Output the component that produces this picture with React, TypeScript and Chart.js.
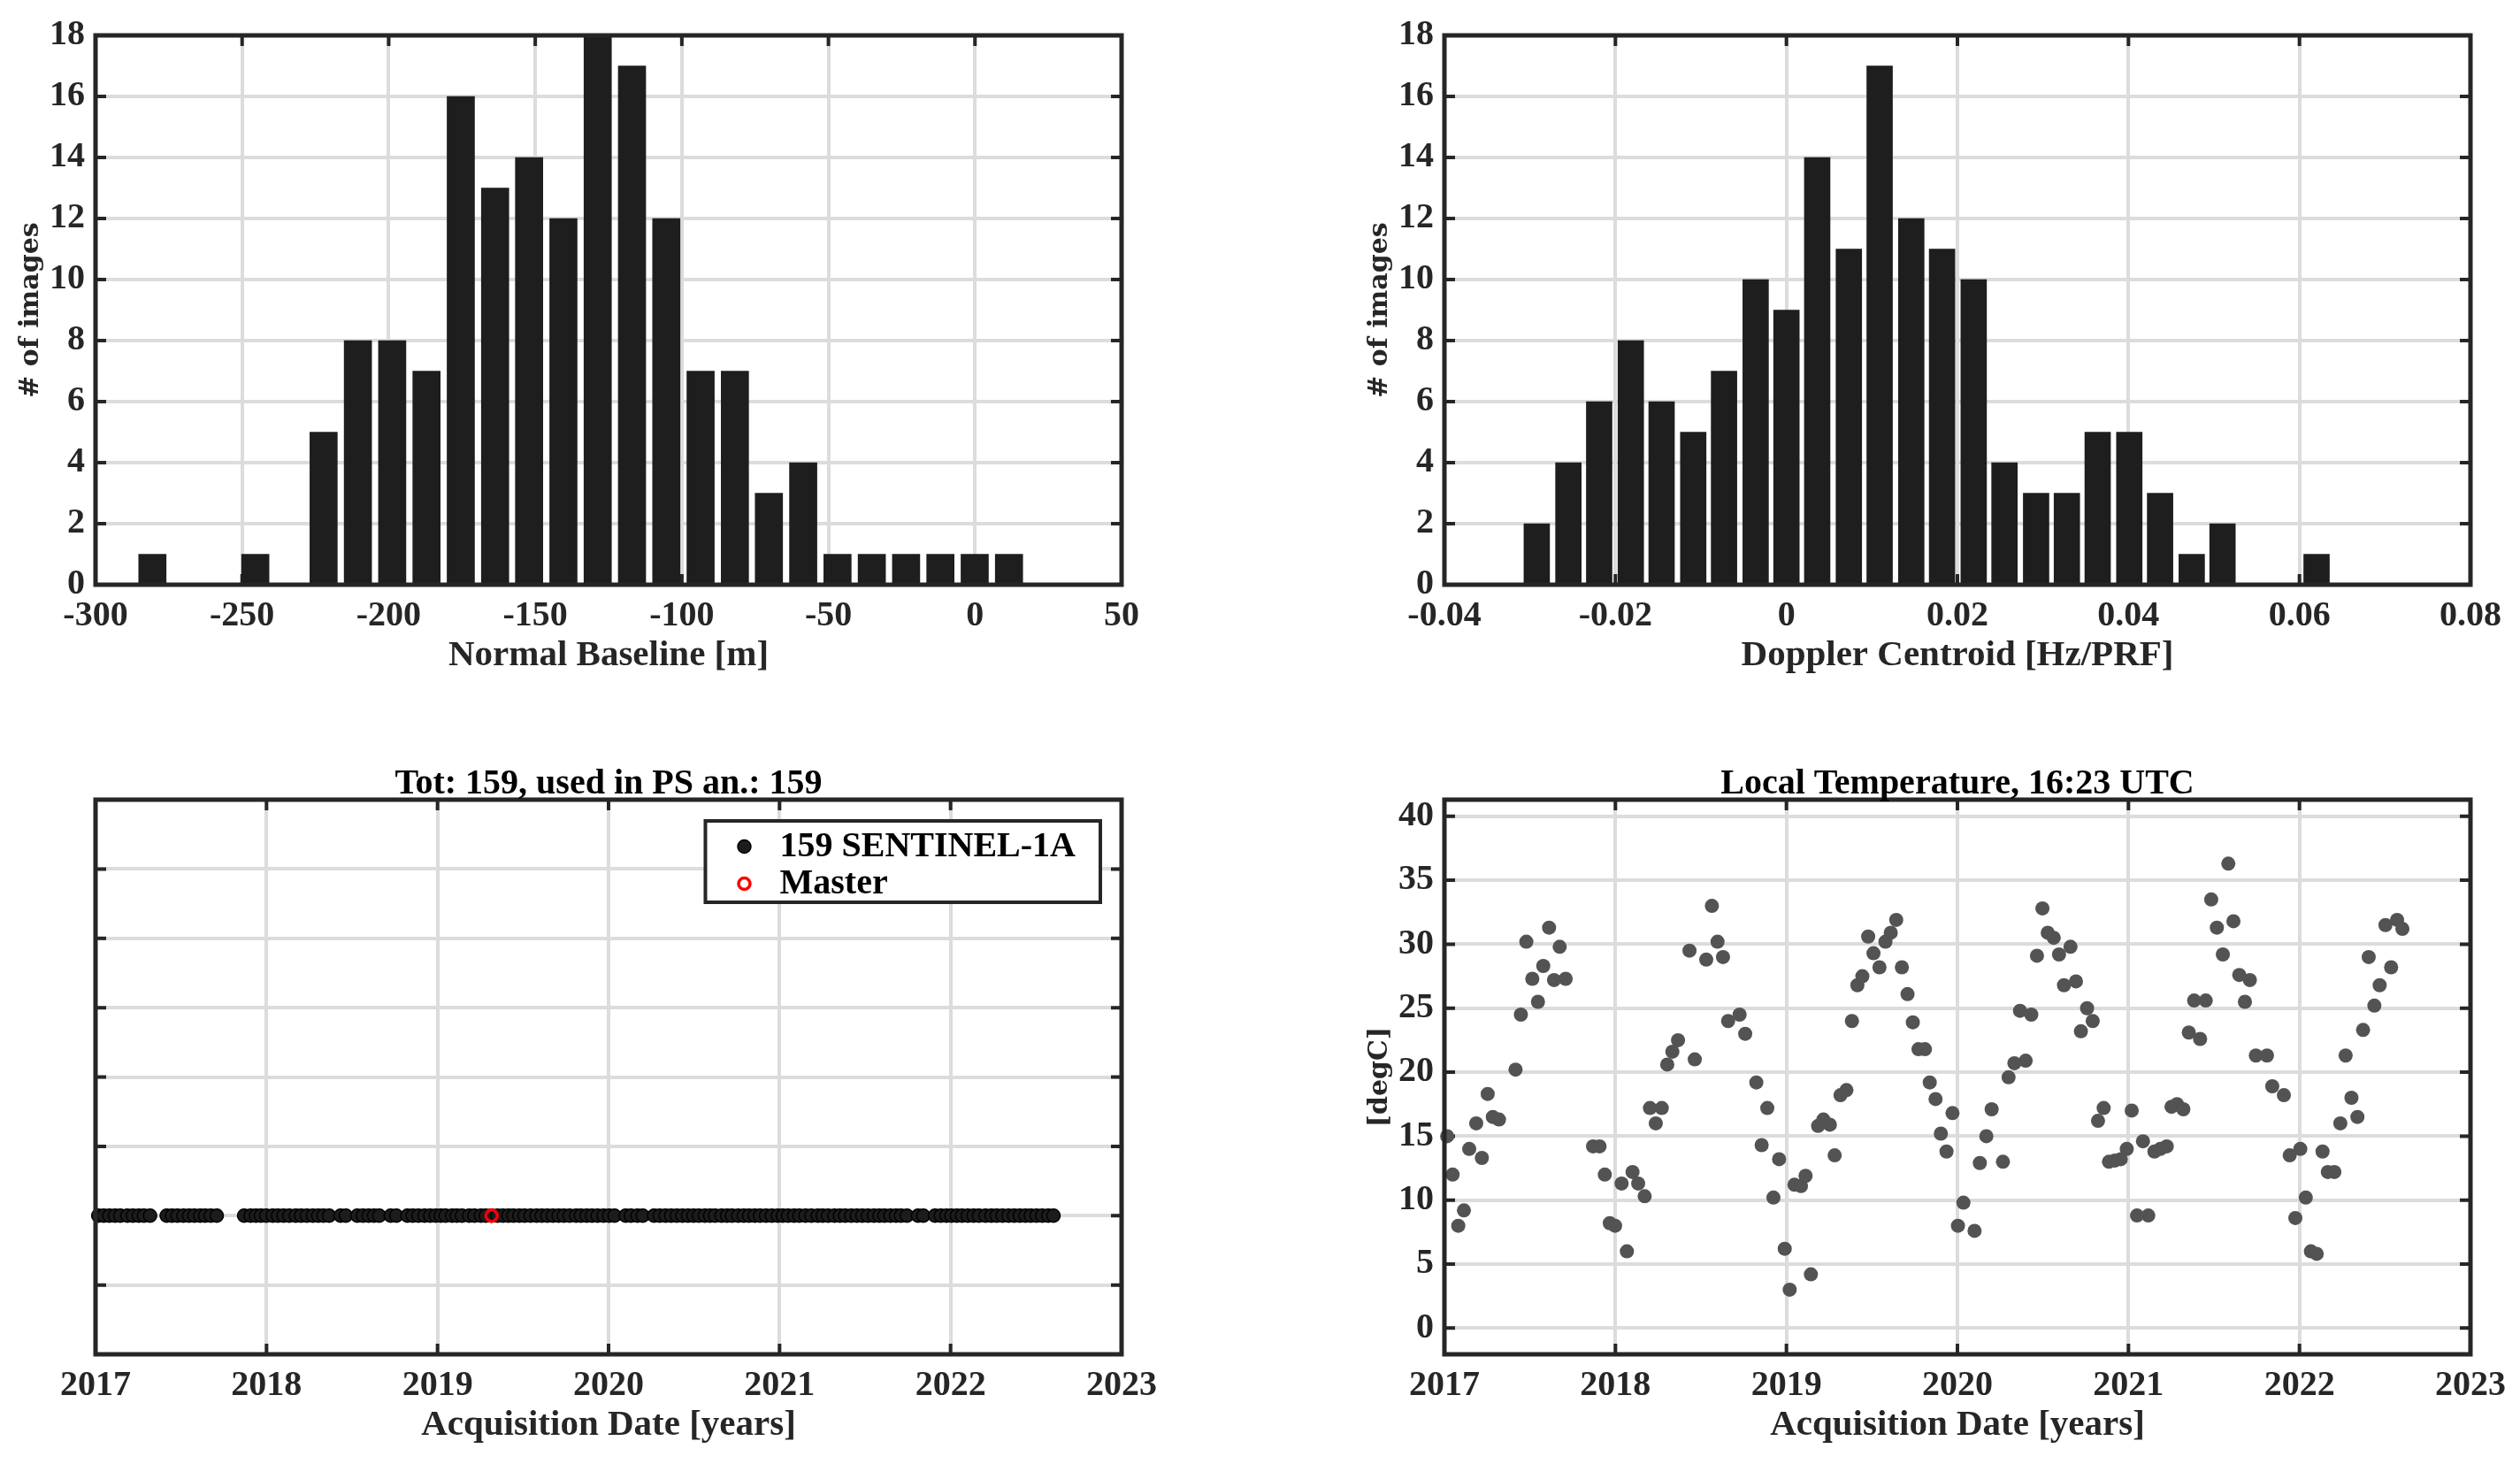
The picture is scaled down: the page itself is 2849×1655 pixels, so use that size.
import React, { useEffect, useRef } from "react";
import { Chart, registerables } from "chart.js";

Chart.register(...registerables);

// ---------------- DATA ----------------
const baselineBinCenters = [
  -280.6, -268.9, -257.2, -245.5, -233.9, -222.2, -210.5, -198.8, -187.1, -175.4,
  -163.7, -152.1, -140.4, -128.7, -117.0, -105.3, -93.6, -81.9, -70.3, -58.6,
  -46.9, -35.2, -23.5, -11.8, -0.1, 11.6,
];
const baselineCounts = [1, 0, 0, 1, 0, 5, 8, 8, 7, 16, 13, 14, 12, 18, 17, 12, 7, 7, 3, 4, 1, 1, 1, 1, 1, 1];
const baselineTicks = [-300, -250, -200, -150, -100, -50, 0, 50];

const dopplerBinCenters = [
  -0.0292, -0.0255, -0.0219, -0.0182, -0.0146, -0.0109, -0.0073, -0.0036, 0.0, 0.0036,
  0.0073, 0.0109, 0.0146, 0.0182, 0.0219, 0.0255, 0.0292, 0.0328, 0.0364, 0.0401,
  0.0437, 0.0474, 0.051, 0.0547, 0.0583, 0.062,
];
const dopplerCounts = [2, 4, 6, 8, 6, 5, 7, 10, 9, 14, 11, 17, 12, 11, 10, 4, 3, 3, 5, 5, 3, 1, 2, 0, 0, 1];
const dopplerTicks = [-0.04, -0.02, 0, 0.02, 0.04, 0.06, 0.08];

const countTicks = [0, 2, 4, 6, 8, 10, 12, 14, 16, 18];
const yearTicks = [2017, 2018, 2019, 2020, 2021, 2022, 2023];
const trackTicks = [0, 1, 2, 3, 4, 5, 6, 7, 8];
const tempTicks = [0, 5, 10, 15, 20, 25, 30, 35, 40];

// acquisition dates (decimal years) and local temperature [degC]
const acqDates = [
  2017.016, 2017.048, 2017.081, 2017.114, 2017.145, 2017.186, 2017.219, 2017.253, 2017.283, 2017.319,
  2017.416, 2017.447, 2017.479, 2017.514, 2017.547, 2017.578, 2017.612, 2017.641, 2017.674, 2017.709,
  2017.869, 2017.907, 2017.938, 2017.967, 2017.998, 2018.036, 2018.067, 2018.1, 2018.133, 2018.171,
  2018.202, 2018.236, 2018.271, 2018.303, 2018.333, 2018.366, 2018.433, 2018.464, 2018.531, 2018.564,
  2018.597, 2018.629, 2018.659, 2018.726, 2018.759, 2018.824, 2018.855, 2018.888, 2018.924, 2018.957,
  2018.99, 2019.019, 2019.047, 2019.085, 2019.112, 2019.143, 2019.185, 2019.216, 2019.254, 2019.282,
  2019.316, 2019.351, 2019.383, 2019.415, 2019.444, 2019.478, 2019.509, 2019.544, 2019.579, 2019.61,
  2019.642, 2019.675, 2019.708, 2019.739, 2019.772, 2019.81, 2019.838, 2019.872, 2019.903, 2019.936,
  2019.971, 2020.003, 2020.035, 2020.1, 2020.131, 2020.169, 2020.2, 2020.266, 2020.299, 2020.333,
  2020.366, 2020.399, 2020.432, 2020.465, 2020.497, 2020.528, 2020.563, 2020.594, 2020.623, 2020.661,
  2020.693, 2020.722, 2020.758, 2020.791, 2020.822, 2020.855, 2020.886, 2020.921, 2020.955, 2020.99,
  2021.019, 2021.05, 2021.085, 2021.116, 2021.152, 2021.186, 2021.224, 2021.252, 2021.284, 2021.321,
  2021.353, 2021.384, 2021.419, 2021.452, 2021.484, 2021.517, 2021.552, 2021.584, 2021.614, 2021.648,
  2021.681, 2021.71, 2021.745, 2021.81, 2021.841, 2021.909, 2021.943, 2021.976, 2022.005, 2022.037,
  2022.067, 2022.101, 2022.135, 2022.166, 2022.204, 2022.239, 2022.27, 2022.304, 2022.339, 2022.372,
  2022.405, 2022.438, 2022.469, 2022.503, 2022.536, 2022.571, 2022.602,
];
const temperatures = [
  15.0, 12.0, 8.0, 9.2, 14.0, 16.0, 13.3, 18.3, 16.5, 16.3,
  20.2, 24.5, 30.2, 27.3, 25.5, 28.3, 31.3, 27.2, 29.8, 27.3,
  14.2, 14.2, 12.0, 8.2, 8.0, 11.3, 6.0, 12.2, 11.3, 10.3,
  17.2, 16.0, 17.2, 20.6, 21.6, 22.5, 29.5, 21.0, 28.8, 33.0,
  30.2, 29.0, 24.0, 24.5, 23.0, 19.2, 14.3, 17.2, 10.2, 13.2,
  6.2, 3.0, 11.2, 11.1, 11.9, 4.2, 15.8, 16.3, 15.9, 13.5,
  18.2, 18.6, 24.0, 26.8, 27.5, 30.6, 29.3, 28.2, 30.2, 30.9,
  31.9, 28.2, 26.1, 23.9, 21.8, 21.8, 19.2, 17.9, 15.2, 13.8,
  16.8, 8.0, 9.8, 7.6, 12.9, 15.0, 17.1, 13.0, 19.6, 20.7,
  24.8, 20.9, 24.5, 29.1, 32.8, 30.9, 30.5, 29.2, 26.8, 29.8,
  27.1, 23.2, 25.0, 24.0, 16.2, 17.2, 13.0, 13.1, 13.2, 14.0,
  17.0, 8.8, 14.6, 8.8, 13.8, 14.0, 14.2, 17.3, 17.5, 17.1,
  23.1, 25.6, 22.6, 25.6, 33.5, 31.3, 29.2, 36.3, 31.8, 27.6,
  25.5, 27.2, 21.3, 21.3, 18.9, 18.2, 13.5, 8.6, 14.0, 10.2,
  6.0, 5.8, 13.8, 12.2, 12.2, 16.0, 21.3, 18.0, 16.5, 23.3,
  29.0, 25.2, 26.8, 31.5, 28.2, 31.9, 31.2,
];
const masterDate = 2019.316;
const trackLevel = 2;

const sentinelLabel = "159 SENTINEL-1A";
const masterLabel = "Master";
const timelineTitle = "Tot: 159, used in PS an.: 159";
const tempTitle = "Local Temperature, 16:23 UTC";

// ---------------- STYLE / LAYOUT ----------------
const SERIF = '"Liberation Serif", "Times New Roman", serif';
const YSERIF = '"DejaVu Serif", serif';
const TEXT_COLOR = "#262626";
const AXIS_COLOR = "#262626";
const GRID_COLOR = "#dcdcdc";
const GRID_W = 4;
const FRAME_W = 5;
const TICK_W = 4;
const TICK_LEN = 12;
const TICK_FONT = { family: SERIF, size: 40, weight: "bold" as const, lineHeight: 1.2 };
const LABEL_FONT = { family: SERIF, size: 41, weight: "bold" as const, lineHeight: 1.2 };
const YLABEL_FONT = { family: YSERIF, size: 30, weight: "bold" as const, lineHeight: 1.2 };
const TITLE_FONT = `bold 40px ${SERIF}`;
const LEGEND_FONT = `bold 40px ${SERIF}`;

const X_TITLE_GAP = 80; // frame bottom -> x title center
const Y_TITLE_GAP = 73; // frame left -> y title center
const TITLE_GAP = 17; // frame top -> title center

const LEG = { marginR: 24, marginT: 24, padT: 4, row: 42, markX: 44, textX: 84, padR: 28, textDy: 4 };

type Box = { x: number; y: number; w: number; h: number };
type Rect = { l: number; t: number; r: number; b: number };

const BOX_TL: Box = { x: 0, y: 0, w: 1424, h: 830 };
const BOX_TR: Box = { x: 1424, y: 0, w: 1425, h: 830 };
const BOX_BL: Box = { x: 0, y: 830, w: 1424, h: 825 };
const BOX_BR: Box = { x: 1424, y: 830, w: 1425, h: 825 };
const AREA_TL: Rect = { l: 108, t: 40, r: 1268, b: 661 };
const AREA_TR: Rect = { l: 1633, t: 40, r: 2793, b: 661 };
const AREA_BL: Rect = { l: 108, t: 904, r: 1268, b: 1531 };
const AREA_BR: Rect = { l: 1633, t: 904, r: 2793, b: 1531 };

// ---------------- PLUGIN (MATLAB-like axes box) ----------------
const matlabAxes: any = {
  id: "matlabAxes",
  beforeDatasetsDraw(chart: any) {
    const { ctx, chartArea: a } = chart;
    const xs = chart.scales.x;
    const ys = chart.scales.y;
    ctx.save();
    ctx.strokeStyle = AXIS_COLOR;
    ctx.lineWidth = TICK_W;
    ctx.beginPath();
    xs.ticks.forEach((t: any) => {
      const p = xs.getPixelForValue(t.value);
      if (p - a.left < 2 || a.right - p < 2) return;
      ctx.moveTo(p, a.bottom);
      ctx.lineTo(p, a.bottom - TICK_LEN);
      ctx.moveTo(p, a.top);
      ctx.lineTo(p, a.top + TICK_LEN);
    });
    ys.ticks.forEach((t: any) => {
      const p = ys.getPixelForValue(t.value);
      if (p - a.top < 2 || a.bottom - p < 2) return;
      ctx.moveTo(a.left, p);
      ctx.lineTo(a.left + TICK_LEN, p);
      ctx.moveTo(a.right, p);
      ctx.lineTo(a.right - TICK_LEN, p);
    });
    ctx.stroke();
    ctx.restore();
  },
  afterDatasetsDraw(chart: any, _args: any, opts: any) {
    const { ctx, chartArea: a } = chart;
    ctx.save();
    ctx.strokeStyle = AXIS_COLOR;
    ctx.lineWidth = FRAME_W;
    ctx.strokeRect(a.left, a.top, a.right - a.left, a.bottom - a.top);
    if (opts && opts.title) {
      ctx.font = TITLE_FONT;
      ctx.fillStyle = "#000";
      ctx.textAlign = "center";
      ctx.textBaseline = "middle";
      ctx.fillText(opts.title, (a.left + a.right) / 2, a.top - TITLE_GAP);
    }
    if (opts && opts.legend) {
      const ds = chart.data.datasets;
      ctx.font = LEGEND_FONT;
      const w = Math.max(...ds.map((d: any) => ctx.measureText(d.label).width));
      const bw = LEG.textX + w + LEG.padR;
      const bh = LEG.padT * 2 + ds.length * LEG.row;
      const bx = a.right - LEG.marginR - bw;
      const by = a.top + LEG.marginT;
      ctx.fillStyle = "#ffffff";
      ctx.fillRect(bx, by, bw, bh);
      ctx.lineWidth = 4;
      ctx.strokeStyle = AXIS_COLOR;
      ctx.strokeRect(bx, by, bw, bh);
      ds.forEach((d: any, i: number) => {
        const cy = by + LEG.padT + LEG.row * (i + 0.5) + LEG.textDy;
        ctx.beginPath();
        ctx.arc(bx + LEG.markX, cy, d.pointRadius, 0, Math.PI * 2);
        if (d.pointBackgroundColor && d.pointBackgroundColor !== "rgba(0,0,0,0)") {
          ctx.fillStyle = d.pointBackgroundColor;
          ctx.fill();
        }
        ctx.lineWidth = d.pointBorderWidth;
        ctx.strokeStyle = d.pointBorderColor;
        ctx.stroke();
        ctx.fillStyle = "#000";
        ctx.textAlign = "left";
        ctx.textBaseline = "middle";
        ctx.fillText(d.label, bx + LEG.textX, cy + 1);
      });
    }
    ctx.restore();
  },
};

function buildOptions(box: Box, area: Rect, o: any) {
  const yWidth = area.l - box.x;
  const xHeight = box.y + box.h - area.b;
  const xTitleLH = LABEL_FONT.size * LABEL_FONT.lineHeight;
  const yTitleLH = YLABEL_FONT.size * YLABEL_FONT.lineHeight;
  return {
    responsive: false,
    maintainAspectRatio: false,
    animation: false,
    devicePixelRatio: 1,
    events: [],
    layout: { padding: { left: 0, top: area.t - box.y, right: box.x + box.w - area.r, bottom: 0 } },
    plugins: {
      legend: { display: false },
      tooltip: { enabled: false },
      title: { display: false },
      matlabAxes: { title: o.title || "", legend: !!o.legend },
    },
    scales: {
      x: {
        type: "linear",
        min: o.xMin,
        max: o.xMax,
        offset: false,
        afterBuildTicks: (s: any) => {
          s.ticks = o.xTicks.map((v: number) => ({ value: v }));
        },
        afterFit: (s: any) => {
          s.height = xHeight;
        },
        grid: { color: GRID_COLOR, lineWidth: GRID_W, drawTicks: false, offset: false },
        border: { display: false },
        ticks: {
          font: TICK_FONT,
          color: TEXT_COLOR,
          padding: 12,
          maxRotation: 0,
          minRotation: 0,
          autoSkip: false,
          callback: o.xFmt,
        },
        title: {
          display: true,
          text: o.xTitle,
          font: LABEL_FONT,
          color: TEXT_COLOR,
          padding: { top: 0, bottom: xHeight - X_TITLE_GAP - xTitleLH / 2 },
        },
      },
      y: {
        type: "linear",
        min: o.yMin,
        max: o.yMax,
        afterBuildTicks: (s: any) => {
          s.ticks = o.yTicks.map((v: number) => ({ value: v }));
        },
        afterFit: (s: any) => {
          s.width = yWidth;
        },
        grid: { color: GRID_COLOR, lineWidth: GRID_W, drawTicks: false },
        border: { display: false },
        ticks: {
          display: o.yLabels !== false,
          font: TICK_FONT,
          color: TEXT_COLOR,
          padding: 12,
          autoSkip: false,
          callback: (v: number) => String(v),
        },
        title: {
          display: !!o.yTitle,
          text: o.yTitle || "",
          font: YLABEL_FONT,
          color: TEXT_COLOR,
          padding: { top: yWidth - Y_TITLE_GAP - yTitleLH / 2, bottom: 0 },
        },
      },
    },
  };
}

const fmtPlain = (v: number) => String(v);
const fmtDoppler = (v: number) => (v === 0 ? "0" : v.toFixed(2));

function histConfig(centers: number[], counts: number[], box: Box, area: Rect, o: any) {
  return {
    type: "bar",
    data: {
      datasets: [
        {
          data: centers.map((c, i) => ({ x: c, y: counts[i] })),
          backgroundColor: "#1e1e1e",
          borderWidth: 0,
          barThickness: o.barPx,
        },
      ],
    },
    options: buildOptions(box, area, o),
    plugins: [matlabAxes],
  };
}

function timelineConfig() {
  return {
    type: "scatter",
    data: {
      datasets: [
        {
          label: sentinelLabel,
          data: acqDates.map((d) => ({ x: d, y: trackLevel })),
          pointRadius: 7.5,
          pointBackgroundColor: "#1c1c1c",
          pointBorderColor: "#000000",
          pointBorderWidth: 1.5,
          order: 1,
          clip: false,
        },
        {
          label: masterLabel,
          data: [{ x: masterDate, y: trackLevel }],
          pointRadius: 6.5,
          pointBackgroundColor: "rgba(0,0,0,0)",
          pointBorderColor: "#ff0000",
          pointBorderWidth: 3.5,
          order: 0,
          clip: false,
        },
      ],
    },
    options: buildOptions(BOX_BL, AREA_BL, {
      xMin: 2017,
      xMax: 2023,
      xTicks: yearTicks,
      xFmt: fmtPlain,
      xTitle: "Acquisition Date [years]",
      yMin: 0,
      yMax: 8,
      yTicks: trackTicks,
      yLabels: false,
      title: timelineTitle,
      legend: true,
    }),
    plugins: [matlabAxes],
  };
}

function tempConfig() {
  return {
    type: "scatter",
    data: {
      datasets: [
        {
          label: "Temperature",
          data: acqDates.map((d, i) => ({ x: d, y: temperatures[i] })),
          pointRadius: 8,
          pointBackgroundColor: "#535353",
          pointBorderColor: "#535353",
          pointBorderWidth: 0,
          clip: false,
        },
      ],
    },
    options: buildOptions(BOX_BR, AREA_BR, {
      xMin: 2017,
      xMax: 2023,
      xTicks: yearTicks,
      xFmt: fmtPlain,
      xTitle: "Acquisition Date [years]",
      yMin: -2.05,
      yMax: 41.3,
      yTicks: tempTicks,
      yTitle: "[degC]",
      title: tempTitle,
    }),
    plugins: [matlabAxes],
  };
}

function ChartCanvas({ box, make }: { box: Box; make: () => any }) {
  const ref = useRef<HTMLCanvasElement | null>(null);
  useEffect(() => {
    if (!ref.current) return;
    const chart = new Chart(ref.current, make());
    return () => chart.destroy();
  }, []);
  return (
    <canvas
      ref={ref}
      width={box.w}
      height={box.h}
      style={{ position: "absolute", left: box.x, top: box.y, width: box.w, height: box.h }}
    />
  );
}

export default function App() {
  return (
    <div
      style={{
        position: "fixed",
        left: 0,
        top: 0,
        width: 2849,
        height: 1655,
        background: "#ffffff",
        overflow: "hidden",
      }}
    >
      <ChartCanvas
        box={BOX_TL}
        make={() =>
          histConfig(baselineBinCenters, baselineCounts, BOX_TL, AREA_TL, {
            xMin: -300,
            xMax: 50,
            xTicks: baselineTicks,
            xFmt: fmtPlain,
            xTitle: "Normal Baseline [m]",
            yMin: 0,
            yMax: 18,
            yTicks: countTicks,
            yTitle: "# of images",
            barPx: 31,
          })
        }
      />
      <ChartCanvas
        box={BOX_TR}
        make={() =>
          histConfig(dopplerBinCenters, dopplerCounts, BOX_TR, AREA_TR, {
            xMin: -0.04,
            xMax: 0.08,
            xTicks: dopplerTicks,
            xFmt: fmtDoppler,
            xTitle: "Doppler Centroid [Hz/PRF]",
            yMin: 0,
            yMax: 18,
            yTicks: countTicks,
            yTitle: "# of images",
            barPx: 29,
          })
        }
      />
      <ChartCanvas box={BOX_BL} make={timelineConfig} />
      <ChartCanvas box={BOX_BR} make={tempConfig} />
    </div>
  );
}
